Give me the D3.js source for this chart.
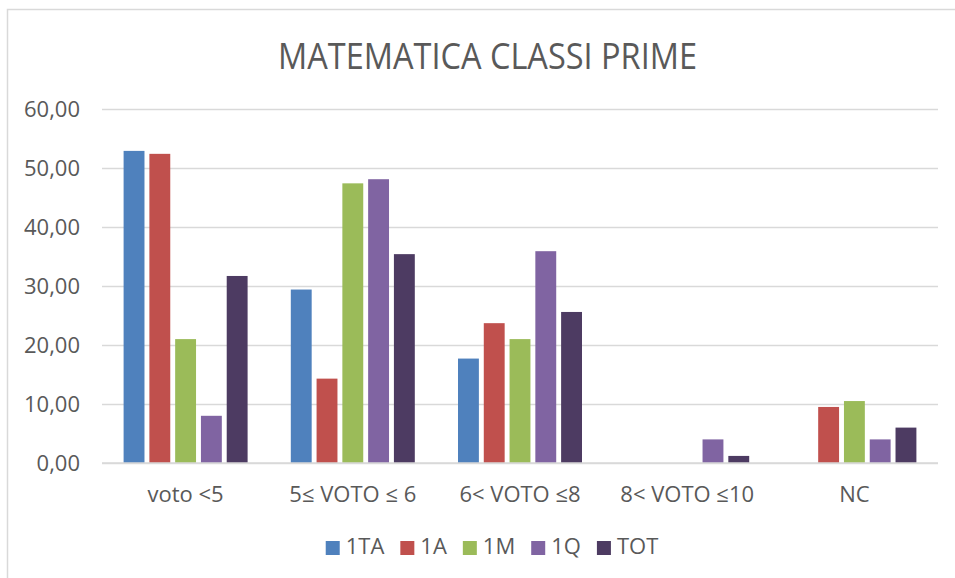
<!DOCTYPE html>
<html><head><meta charset="utf-8">
<script src="https://cdn.jsdelivr.net/npm/d3@7"></script>
<style>html,body{margin:0;padding:0;background:#fff;} svg{display:block;font-family:"Open Sans",sans-serif;}</style>
</head><body>
<svg id="c" width="955" height="578"></svg>
<script>
const title = "MATEMATICA CLASSI PRIME";
const categories = ["voto <5", "5\u2264 VOTO \u2264 6", "6< VOTO \u22648", "8< VOTO \u226410", "NC"];
const seriesNames = ["1TA", "1A", "1M", "1Q", "TOT"];
const colors = ["#4F81BD", "#C0504D", "#9BBB59", "#8064A2", "#4D3B62"];
const s1TA = [52.9, 29.4, 17.7, 0, 0];
const s1A  = [52.4, 14.3, 23.7, 0, 9.5];
const s1M  = [21.0, 47.4, 21.0, 0, 10.5];
const s1Q  = [8.0, 48.1, 35.9, 4.0, 4.0];
const sTOT = [31.7, 35.4, 25.6, 1.2, 6.0];
const yTicks = [0, 10, 20, 30, 40, 50, 60];
const seriesValues = [s1TA, s1A, s1M, s1Q, sTOT];

const svg = d3.select("#c");
const textColor = "#595959", gridColor = "#D9D9D9";

// chart border
svg.append("rect").attr("x", 7.5).attr("y", 9.5).attr("width", 960).attr("height", 600)
  .attr("fill", "none").attr("stroke", gridColor).attr("stroke-width", 1.5);

// title
svg.append("text").attr("x", 487.5).attr("y", 69).attr("text-anchor", "middle")
  .attr("font-size", 36).attr("fill", textColor)
  .attr("textLength", 419).attr("lengthAdjust", "spacingAndGlyphs").text(title);

const pLeft = 102, pRight = 938, pTop = 109, pBottom = 463;
const y = d3.scaleLinear().domain([0, 60]).range([pBottom, pTop]);
const x0 = d3.scaleBand().domain(categories).range([pLeft, pRight]).padding(0);
const groupW = 124;
const x1 = d3.scaleBand().domain(seriesNames).range([0, groupW]).paddingInner(0.19).paddingOuter(0);

// gridlines
const yAxis = d3.axisLeft(y).tickValues(yTicks).tickSize(-(pRight - pLeft))
  .tickFormat(d => d3.format(".2f")(d).replace(".", ","));
const ga = svg.append("g").attr("transform", `translate(${pLeft},0)`).call(yAxis);
ga.select(".domain").remove();
ga.selectAll(".tick line").attr("stroke", gridColor).attr("stroke-width", 1.5);
ga.selectAll(".tick text").attr("fill", textColor).attr("font-size", 22)
  .attr("font-family", "'Open Sans',sans-serif").attr("x", -22).attr("dy", "0.36em");

// bars
const data = [];
categories.forEach((c, ci) => seriesNames.forEach((s, si) => data.push({c, s, v: seriesValues[si][ci], color: colors[si]})));
const off = (x0.bandwidth() - groupW) / 2;
svg.append("g").selectAll("rect").data(data).join("rect")
  .attr("x", d => x0(d.c) + off + x1(d.s))
  .attr("y", d => y(d.v))
  .attr("width", x1.bandwidth())
  .attr("height", d => y(0) - y(d.v))
  .attr("fill", d => d.color);

// baseline on top
svg.append("line").attr("x1", pLeft).attr("x2", pRight).attr("y1", y(0)).attr("y2", y(0))
  .attr("stroke", gridColor).attr("stroke-width", 1.5);

// category labels
const xAxis = d3.axisBottom(x0).tickSize(0).tickPadding(0);
const gx = svg.append("g").attr("transform", `translate(0,${pBottom})`).call(xAxis);
gx.select(".domain").remove();
gx.selectAll(".tick text").attr("fill", textColor).attr("font-size", 22)
  .attr("font-family", "'Open Sans',sans-serif").attr("y", 39).attr("dy", 0);

// legend
const lg = svg.append("g");
const items = lg.selectAll("g").data(seriesNames).join("g");
items.append("rect").attr("width", 14).attr("height", 14).attr("y", 541)
  .attr("fill", (d, i) => colors[i]);
items.append("text").attr("x", 20).attr("y", 554).attr("font-size", 22).attr("fill", textColor).text(d => d);
let xs = 0; const pos = [];
items.each(function(d) { pos.push(xs); xs += 20 + this.querySelector("text").getComputedTextLength() + 16; });
const totalW = xs - 16;
const startX = 492 - totalW / 2;
items.attr("transform", (d, i) => `translate(${startX + pos[i]},0)`);
</script>
</body></html>
